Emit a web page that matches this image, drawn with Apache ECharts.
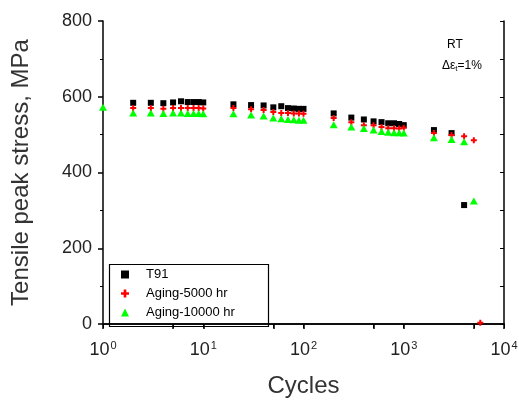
<!DOCTYPE html>
<html>
<head>
<meta charset="utf-8">
<script src="https://cdn.jsdelivr.net/npm/echarts@6/dist/echarts.min.js"></script>
<style>
  html, body { margin: 0; padding: 0; background: #fff; }
  #main { width: 519px; height: 405px; }
</style>
</head>
<body>
<div id="main"></div>
<script>
// cycles and peak stress (MPa)
var cyclesT91 = [2, 3, 4, 5, 6, 7, 8, 9, 10, 20, 30, 40, 50, 60, 70, 80, 90, 100, 200, 300, 400, 500, 600, 700, 800, 900, 1000, 2000, 3000, 4000];
var stressT91 = [584, 584, 583, 585, 588, 586, 586, 586, 585, 580, 578, 577, 572, 575, 570, 569, 568, 568, 556, 545, 540, 535, 533, 530, 530, 528, 525, 512, 504, 314];

var cycles5000 = [2, 3, 4, 5, 6, 7, 8, 9, 10, 20, 30, 40, 50, 60, 70, 80, 90, 100, 200, 300, 400, 500, 600, 700, 800, 900, 1000, 2000, 3000, 4000, 5000, 5800];
var stress5000 = [570, 570, 568, 570, 570, 570, 570, 570, 569, 570, 567, 565, 560, 557, 557, 556, 556, 555, 544, 533, 525, 525, 520, 517, 517, 516, 518, 504, 499, 496, 485, 3];

var cycles10000 = [1, 2, 3, 4, 5, 6, 7, 8, 9, 10, 20, 30, 40, 50, 60, 70, 80, 90, 100, 200, 300, 400, 500, 600, 700, 800, 900, 1000, 2000, 3000, 4000, 5000];
var stress10000 = [572, 557, 557, 556, 557, 557, 556, 556, 556, 555, 555, 552, 549, 544, 542, 540, 539, 538, 538, 526, 520, 516, 512, 508, 506, 505, 505, 504, 492, 487, 481, 325];

var seriesNames = ['T91', 'Aging-5000 hr', 'Aging-10000 hr'];
var xTicks = [1, 5, 10, 50, 100, 500, 1000, 5000, 10000];
var xLabels = [1, 10, 100, 1000, 10000];

function pairs(xs, ys) {
  return xs.map(function (x, i) { return [x, ys[i]]; });
}

var font = 'Liberation Sans, Arial, sans-serif';
var plusPath = 'path://M2,0H4V2H6V4H4V6H2V4H0V2H2Z';

var myChart = echarts.init(document.getElementById('main'));
var option = {
  animation: false,
  textStyle: { fontFamily: font },
  grid: { left: 103, right: 15, top: 21, bottom: 81, outerBoundsMode: 'none', containLabel: false },
  legend: {
    data: seriesNames,
    orient: 'vertical',
    left: 121,
    top: 268,
    padding: 0,
    itemGap: 6,
    itemWidth: 8,
    itemHeight: 8,
    textStyle: { fontSize: 13, lineHeight: 13, color: '#000', padding: [0, 0, 0, 12] }
  },
  xAxis: [
    {
      type: 'log',
      logBase: 10,
      min: 1,
      max: 10000,
      name: 'Cycles',
      nameLocation: 'middle',
      nameGap: 50,
      nameTextStyle: { fontSize: 24, color: '#333' },
      axisLine: { lineStyle: { color: '#000', width: 1.5 } },
      axisTick: { inside: false, length: 5, customValues: xTicks, lineStyle: { color: '#000', width: 1.5 } },
      axisLabel: {
        customValues: xLabels,
        margin: 16,
        color: '#222',
        formatter: function (v) {
          return '{b|10}{s|' + Math.round(Math.log10(v)) + '}';
        },
        rich: {
          b: { fontSize: 18, color: '#222' },
          s: { fontSize: 11, color: '#222', padding: [0, 0, 10, 1] }
        }
      },
      splitLine: { show: false }
    },
    {
      type: 'log',
      logBase: 10,
      min: 1,
      max: 10000,
      position: 'top',
      axisLine: { lineStyle: { color: '#000', width: 1.5 } },
      axisTick: { inside: true, length: 4, customValues: xTicks, lineStyle: { color: '#000' } },
      axisLabel: { show: false },
      splitLine: { show: false }
    }
  ],
  yAxis: [
    {
      type: 'value',
      min: 0,
      max: 800,
      interval: 200,
      name: 'Tensile peak stress, MPa',
      nameLocation: 'middle',
      nameGap: 70,
      nameTextStyle: { fontSize: 24, color: '#333' },
      axisLine: { show: true, lineStyle: { color: '#000', width: 1.5 } },
      axisTick: { inside: false, length: 5, lineStyle: { color: '#000', width: 1.5 } },
      minorTick: { show: true, splitNumber: 2, length: 3, lineStyle: { color: '#000' } },
      axisLabel: { fontSize: 18, color: '#222', margin: 11 },
      splitLine: { show: false }
    },
    {
      type: 'value',
      min: 0,
      max: 800,
      interval: 100,
      position: 'right',
      axisLine: { show: true, lineStyle: { color: '#000', width: 1.5 } },
      axisTick: { inside: true, length: 4, lineStyle: { color: '#000' } },
      axisLabel: { show: false },
      splitLine: { show: false }
    }
  ],
  graphic: [
    {
      type: 'rect',
      left: 107,
      top: 262,
      shape: { width: 159, height: 62 },
      style: { fill: 'none', stroke: '#000', lineWidth: 1.2 },
      silent: true
    },
    {
      type: 'text',
      left: 447,
      top: 39,
      style: { text: 'RT', font: '12px ' + font, fill: '#000' }
    },
    {
      type: 'text',
      left: 442,
      top: 60,
      style: {
        text: '{a|Δε}{t|t}{a|=1%}',
        fill: '#000',
        rich: {
          a: { fontSize: 12, fontFamily: font, fill: '#000' },
          t: { fontSize: 8, fontFamily: font, fill: '#000', padding: [6, 0, 0, 0] }
        }
      }
    }
  ],
  series: [
    {
      name: seriesNames[0],
      type: 'scatter',
      symbol: 'rect',
      symbolSize: 6,
      itemStyle: { color: '#000', opacity: 1 },
      data: pairs(cyclesT91, stressT91)
    },
    {
      name: seriesNames[1],
      type: 'scatter',
      symbol: plusPath,
      symbolSize: 6,
      itemStyle: { color: '#ff0000', opacity: 1 },
      data: pairs(cycles5000, stress5000)
    },
    {
      name: seriesNames[2],
      type: 'scatter',
      symbol: 'triangle',
      symbolSize: [8, 7],
      itemStyle: { color: '#00ff00', opacity: 1 },
      data: pairs(cycles10000, stress10000)
    }
  ]
};
myChart.setOption(option);
</script>
</body>
</html>
